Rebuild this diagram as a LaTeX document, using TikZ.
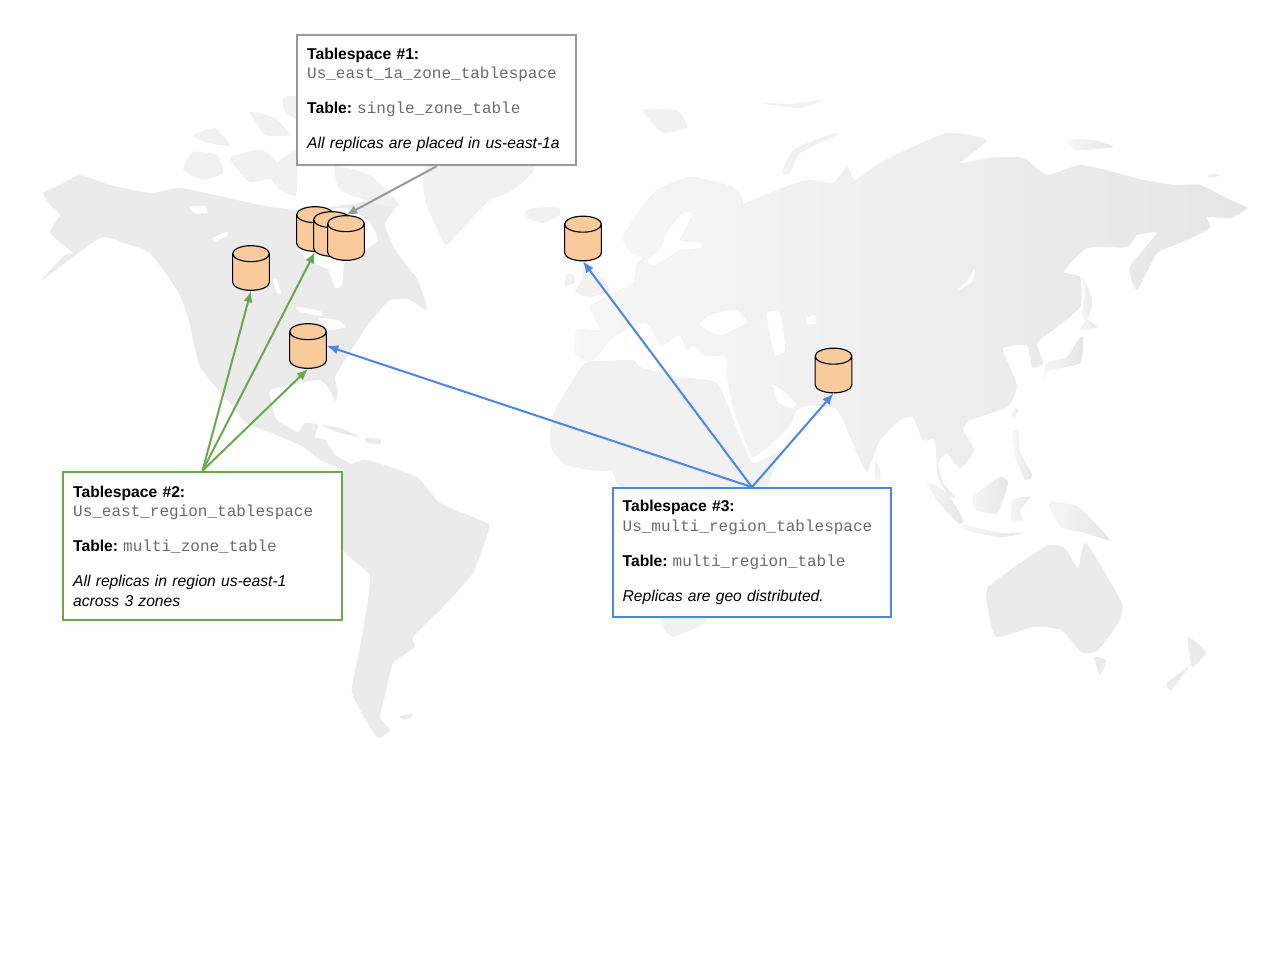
\documentclass[tikz,border=0pt]{standalone}
\usepackage{fontspec}
\setmainfont{Liberation Sans}
\setmonofont{Liberation Mono}
\usepackage{xcolor}
\usetikzlibrary{arrows.meta,shapes.geometric}
\definecolor{landwest}{HTML}{EBEBEB}
\definecolor{landmid}{HTML}{F1F1F1}
\definecolor{landeast}{HTML}{E6E6E6}
\definecolor{dbfill}{HTML}{F9CB9C}
\definecolor{tsgray}{HTML}{999999}
\definecolor{tsgreen}{HTML}{6AA84F}
\definecolor{tsblue}{HTML}{4A86E8}
\definecolor{tsmono}{HTML}{6B6B6B}
\newcommand{\tsname}[1]{{\ttfamily\fontsize{12pt}{14.6pt}\selectfont\color{tsmono}#1}}
\tikzset{
  landpart/.style={fill=landwest, smooth cycle, tension=0.3},
  landold/.style={landpart, fill=landmid},
  landasia/.style={landpart, left color=landmid!60!white, right color=landeast},
  landhole/.style={fill=white, smooth cycle, tension=0.3},
  dbnode/.style={cylinder, shape border rotate=90, shape aspect=1.0, draw=black,
    fill=dbfill, line width=0.85pt, minimum width=27.5pt, minimum height=33.5pt,
    inner sep=6pt, anchor=shape center},
  tsbox/.style={draw=#1, fill=white, line width=1.5pt, text width=194pt,
    inner sep=7.5pt, align=left, minimum width=209pt,
    font=\fontsize{11.75pt}{14.6pt}\selectfont},
  tsarrow/.style={-{Latex[length=8.5pt,width=7pt]}, line width=1.5pt, draw=#1}
}
\begin{document}
\begin{tikzpicture}[x=0.75pt,y=-0.75pt]
  \useasboundingbox (0,0) rectangle (1280,960);

  \fill[landpart] plot coordinates {(43,193) (60,185) (80,175) (110,185) (150,193) (180,188) (215,195) (260,205) (297,210) (345,205) (375,200) (397,203) (385,225) (397,253) (418,280) (427,310) (410,300) (390,300) (370,322) (347,357) (335,377) (338,392) (335,402) (330,390) (320,380) (300,383) (270,390) (272,405) (277,420) (298,432) (305,423) (318,425) (315,437) (325,440) (335,455) (352,465) (345,470) (320,460) (300,445) (247,423) (230,403) (200,367) (188,317) (177,290) (150,253) (123,243) (100,238) (42,280) (65,255) (73,253) (50,233) (60,215) (50,205)};
  \fill[landhole] plot coordinates {(300,215) (345,208) (368,220) (378,240) (365,250) (345,262) (342,285) (335,288) (328,270) (305,258) (297,245)};
  \fill[landhole] plot coordinates {(297,307) (320,311) (322,316) (300,312)};
  \fill[landhole] plot coordinates {(318,318) (338,320) (345,327) (330,330)};
  \fill[landhole] plot coordinates {(190,207) (205,206) (207,213) (195,213)};
  \fill[landhole] plot coordinates {(213,238) (226,232) (228,235) (216,241)};
  \fill[landhole] plot coordinates {(273,280) (277,280) (281,293) (277,293)};
  \fill[landold] plot coordinates {(183,170) (193,152) (217,155) (223,173) (203,180)};
  \fill[landold] plot coordinates {(193,135) (215,128) (230,146) (205,142)};
  \fill[landold] plot coordinates {(250,112) (275,118) (290,135) (265,135)};
  \fill[landold] plot coordinates {(230,158) (262,150) (285,172) (250,182)};
  \fill[landold] plot coordinates {(268,172) (296,150) (296,195) (280,190)};
  \fill[landold] plot coordinates {(335,166) (370,175) (400,205) (380,205) (340,190)};
  \fill[landold] plot coordinates {(283,97) (300,97) (300,120) (285,112)};
  \fill[landold] plot coordinates {(425,165) (425,200) (440,235) (447,245) (470,220) (490,200) (510,192) (533,172) (530,150) (470,130)};
  \fill[landold] plot coordinates {(525,212) (533,208) (558,207) (560,215) (543,223) (528,218)};
  \fill[landpart] plot coordinates {(347,467) (367,460) (417,477) (440,503) (487,523) (488,532) (473,573) (443,607) (413,637) (415,647) (393,663) (387,687) (380,717) (390,730) (377,737) (352,693) (360,647) (370,577) (343,550) (335,490)};
  \fill[landpart] plot coordinates {(320,425) (340,428) (360,437) (340,433)};
  \fill[landpart] plot coordinates {(365,438) (380,439) (380,444) (367,443)};
  \fill[landpart] plot coordinates {(400,716) (412,714) (411,718) (402,719)};

  \fill[landold] plot coordinates {(550,433) (555,410) (577,373) (588,362) (633,360) (640,367) (677,377) (717,383) (740,437) (753,463) (778,453) (767,487) (740,530) (735,580) (710,617) (698,627) (673,637) (665,630) (661,617) (640,540) (618,487) (612,472) (590,470) (565,465) (552,450)};
  \fill[landold] plot coordinates {(583,262) (590,265) (610,290) (590,297) (575,292) (582,280)};
  \fill[landold] plot coordinates {(566,275) (574,274) (575,283) (565,286)};
  \fill[landold] plot coordinates {(643,110) (677,110) (687,127) (663,133)};
  \fill[landold] plot coordinates {(760,103) (790,104) (823,100) (800,108)};
  \fill[landasia] plot coordinates {(575,353) (577,330) (600,330) (590,307) (613,293) (633,283) (637,263) (643,258) (630,252) (623,237) (640,210) (657,190) (690,177) (733,187) (743,203) (723,213) (753,200) (777,190) (807,180) (833,183) (847,167) (855,180) (880,163) (900,153) (947,133) (987,140) (960,163) (990,158) (1023,158) (1047,175) (1080,165) (1113,172) (1143,180) (1173,185) (1200,185) (1230,200) (1247,208) (1230,218) (1207,217) (1210,228) (1180,243) (1157,253) (1137,290) (1130,267) (1157,233) (1137,235) (1127,247) (1087,248) (1063,272) (1080,277) (1080,307) (1053,330) (1037,343) (1043,363) (1032,367) (1027,345) (1003,348) (1008,363) (1017,387) (1007,407) (970,420) (963,430) (974,450) (960,468) (947,453) (938,463) (943,483) (955,497) (950,497) (938,477) (935,440) (923,440) (913,417) (900,420) (880,440) (872,460) (867,472) (858,455) (843,420) (835,408) (810,405) (797,410) (790,425) (770,445) (753,457) (745,440) (733,407) (727,375) (727,357) (705,355) (693,345) (687,350) (680,335) (667,343) (660,345) (647,323) (630,327) (610,340) (600,353) (590,362)};
  \fill[landhole] plot coordinates {(667,233) (683,212) (692,215) (680,240) (700,243) (700,248) (680,250) (655,265) (648,260) (660,250)};
  \fill[landhole] plot coordinates {(700,325) (710,315) (735,310) (747,322) (720,335)};
  \fill[landhole] plot coordinates {(767,313) (780,313) (785,350) (775,355) (770,335)};
  \fill[landhole] plot coordinates {(806,318) (815,316) (815,324) (807,324)};
  \fill[landhole] plot coordinates {(773,385) (782,390) (797,405) (790,408) (778,402)};
  \fill[landhole] plot coordinates {(975,268) (972,282) (958,290) (968,280)};
  \fill[landold] plot coordinates {(782,173) (793,150) (833,133) (837,135) (800,153) (790,173)};
  \fill[landold] plot coordinates {(875,462) (879,466) (881,478) (875,480)};
  \fill[landasia] plot coordinates {(1068,140) (1093,140) (1113,147) (1075,150)};
  \fill[landasia] plot coordinates {(1208,174) (1220,175) (1210,178)};
  \fill[landasia] plot coordinates {(1083,277) (1092,300) (1087,320) (1082,315) (1085,295)};
  \fill[landasia] plot coordinates {(1080,330) (1097,327) (1087,320)};
  \fill[landasia] plot coordinates {(1083,337) (1080,363) (1050,370) (1043,378) (1047,363) (1067,357) (1078,340)};
  \fill[landasia] plot coordinates {(1013,432) (1018,432) (1020,452) (1032,475) (1025,480) (1015,455)};
  \fill[landasia] plot coordinates {(1015,408) (1018,410) (1014,418) (1012,414)};
  \fill[landasia] plot coordinates {(973,497) (1000,477) (1008,483) (997,513) (977,510)};
  \fill[landasia] plot coordinates {(927,482) (947,493) (963,520) (958,523) (937,500)};
  \fill[landasia] plot coordinates {(963,525) (1000,533) (1024,533) (1000,537) (965,530)};
  \fill[landasia] plot coordinates {(1012,500) (1030,497) (1020,510) (1022,520) (1012,520)};
  \fill[landasia] plot coordinates {(1049,503) (1078,507) (1110,540) (1086,533) (1061,527)};
  \fill[landpart] plot coordinates {(988,587) (1029,557) (1049,545) (1065,548) (1078,568) (1086,543) (1122,603) (1118,623) (1098,650) (1082,653) (1061,630) (1033,627) (996,637) (988,610)};
  \fill[landpart] plot coordinates {(1094,657) (1106,660) (1100,675)};
  \fill[landpart] plot coordinates {(1188,637) (1206,652) (1192,667)};
  \fill[landpart] plot coordinates {(1192,663) (1171,690) (1167,683) (1184,670)};

  \node[dbnode] (dbeastone) at (315,229) {};
  \node[dbnode] (dbeasttwo) at (332,234) {};
  \node[dbnode] (dbeastthree) at (346,238) {};
  \node[dbnode] (dbwest) at (251,268) {};
  \node[dbnode] (dbgulf) at (308,346) {};
  \node[dbnode] (dbeurope) at (583,238.5) {};
  \node[dbnode] (dbasia) at (833.5,370.5) {};

  \node[tsbox=tsgray, minimum height=98pt] (tsone) at (436.5,100)
    {\textbf{Tablespace \#1:}\\ \tsname{Us\_east\_1a\_zone\_tablespace}\\[11.6pt]
    \textbf{Table:}\hspace{3.8pt}\tsname{single\_zone\_table}\\[11.6pt]
    \textit{All replicas are placed in us-east-1a}};
  \node[tsbox=tsgreen, minimum height=111.5pt] (tstwo) at (202.5,546)
    {\textbf{Tablespace \#2:}\\ \tsname{Us\_east\_region\_tablespace}\\[11.6pt]
    \textbf{Table:}\hspace{3.8pt}\tsname{multi\_zone\_table}\\[11.6pt]
    \textit{All replicas in region us-east-1}\\ \textit{across 3 zones}};
  \node[tsbox=tsblue, minimum height=96.5pt] (tsthree) at (752,552.5)
    {\textbf{Tablespace \#3:}\\ \tsname{Us\_multi\_region\_tablespace}\\[11.6pt]
    \textbf{Table:}\hspace{3.8pt}\tsname{multi\_region\_table}\\[11.6pt]
    \textit{Replicas are geo distributed.}};

  \draw[tsarrow=tsgray] (tsone.south) -- (dbeastthree.north);
  \draw[tsarrow=tsgreen] (tstwo.north) -- (dbwest.south);
  \draw[tsarrow=tsgreen] (tstwo.north) -- (dbeastone.south);
  \draw[tsarrow=tsgreen] (tstwo.north) -- (dbgulf.south);
  \draw[tsarrow=tsblue] (tsthree.north) -- (dbgulf.east |- dbgulf.shape center);
  \draw[tsarrow=tsblue] (tsthree.north) -- (dbeurope.south);
  \draw[tsarrow=tsblue] (tsthree.north) -- (dbasia.south);
\end{tikzpicture}
\end{document}
